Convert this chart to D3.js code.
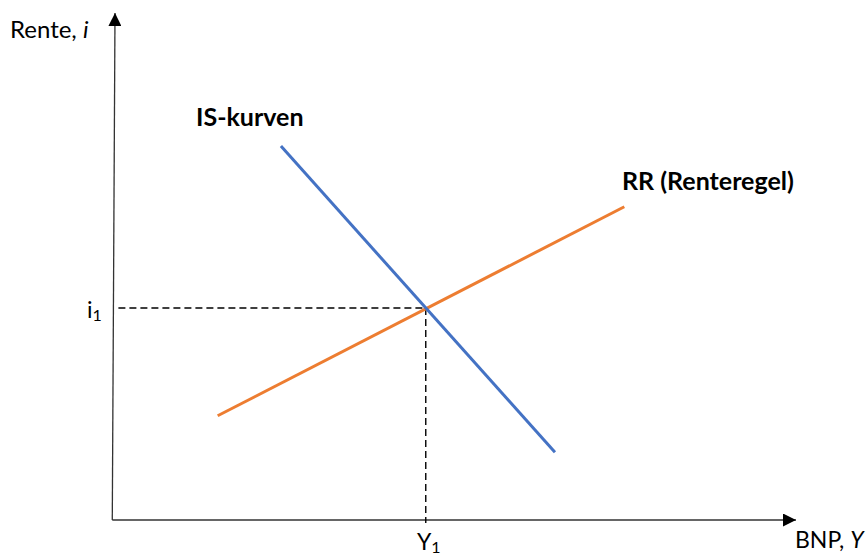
<!DOCTYPE html>
<html><head><meta charset="utf-8">
<script src="https://cdn.jsdelivr.net/npm/d3@7"></script>
<style>body{margin:0;background:#fff}svg{display:block}text{font-family:Lato,"Open Sans",sans-serif}</style>
</head><body><svg id="c" width="866" height="556"></svg>
<script>
// Data (abstract units, 0..100 on both axes)
const isCurve = [{x:24.4,y:73.9},{x:64.7,y:13.4}];
const rrCurve = [{x:15.1,y:20.6},{x:74.9,y:61.9}];
const equilibrium = {x:45.7,y:41.9};
const labels = {yAxis:"Rente, ", yVar:"i", xAxis:"BNP, ", xVar:"Y", is:"IS-kurven", rr:"RR (Renteregel)"};

const svg = d3.select("#c");
const x = d3.scaleLinear().domain([0,100]).range([115,795]);
const y = d3.scaleLinear().domain([0,100]).range([520,14]);

const defs = svg.append("defs");
defs.append("marker").attr("id","arr").attr("viewBox","0 0 10 10").attr("refX",10).attr("refY",5)
  .attr("markerWidth",14).attr("markerHeight",13).attr("markerUnits","userSpaceOnUse").attr("orient","auto")
  .append("path").attr("d","M0,0L10,5L0,10Z").attr("fill","#000");

// axes
svg.append("line").attr("x1",x(-0.4)).attr("y1",y(0)).attr("x2",x(0)).attr("y2",y(100)-1)
  .attr("stroke","#333").attr("stroke-width",1.3).attr("marker-end","url(#arr)");
svg.append("line").attr("x1",x(-0.4)).attr("y1",y(0)).attr("x2",x(100)+1).attr("y2",y(0))
  .attr("stroke","#333").attr("stroke-width",1.3).attr("marker-end","url(#arr)");

// dashed guides
svg.append("line").attr("x1",x(0.5)).attr("x2",x(equilibrium.x)).attr("y1",y(equilibrium.y)).attr("y2",y(equilibrium.y))
  .attr("stroke","#000").attr("stroke-width",1.4).attr("stroke-dasharray","7,4");
svg.append("line").attr("x1",x(equilibrium.x)).attr("x2",x(equilibrium.x)).attr("y1",y(equilibrium.y)).attr("y2",y(-0.6))
  .attr("stroke","#000").attr("stroke-width",1.4).attr("stroke-dasharray","7,4");

const line = d3.line().x(d=>x(d.x)).y(d=>y(d.y));
svg.append("path").datum(rrCurve).attr("d",line).attr("fill","none").attr("stroke","#ED7D31").attr("stroke-width",3);
svg.append("path").datum(isCurve).attr("d",line).attr("fill","none").attr("stroke","#4472C4").attr("stroke-width",3);

// labels
const yl = svg.append("text").attr("x",10).attr("y",38).attr("font-size",24).attr("fill","#000");
yl.append("tspan").text(labels.yAxis);
yl.append("tspan").attr("font-style","italic").text(labels.yVar);
const xl = svg.append("text").attr("x",795).attr("y",548).attr("font-size",23).attr("fill","#000");
xl.append("tspan").text(labels.xAxis);
xl.append("tspan").attr("font-style","italic").text(labels.xVar);

const il = svg.append("text").attr("x",87).attr("y",318).attr("font-size",23);
il.append("tspan").text("i");
il.append("tspan").attr("font-size",16).attr("dy",3).text("1");
const Yl = svg.append("text").attr("x",417).attr("y",550).attr("font-size",23);
Yl.append("tspan").text("Y");
Yl.append("tspan").attr("font-size",16).attr("dy",3).text("1");

svg.append("text").attr("x",196).attr("y",126).attr("font-size",25).attr("font-weight","bold").text(labels.is);
svg.append("text").attr("x",622).attr("y",190).attr("font-size",25).attr("font-weight","bold").text(labels.rr);
</script></body></html>
